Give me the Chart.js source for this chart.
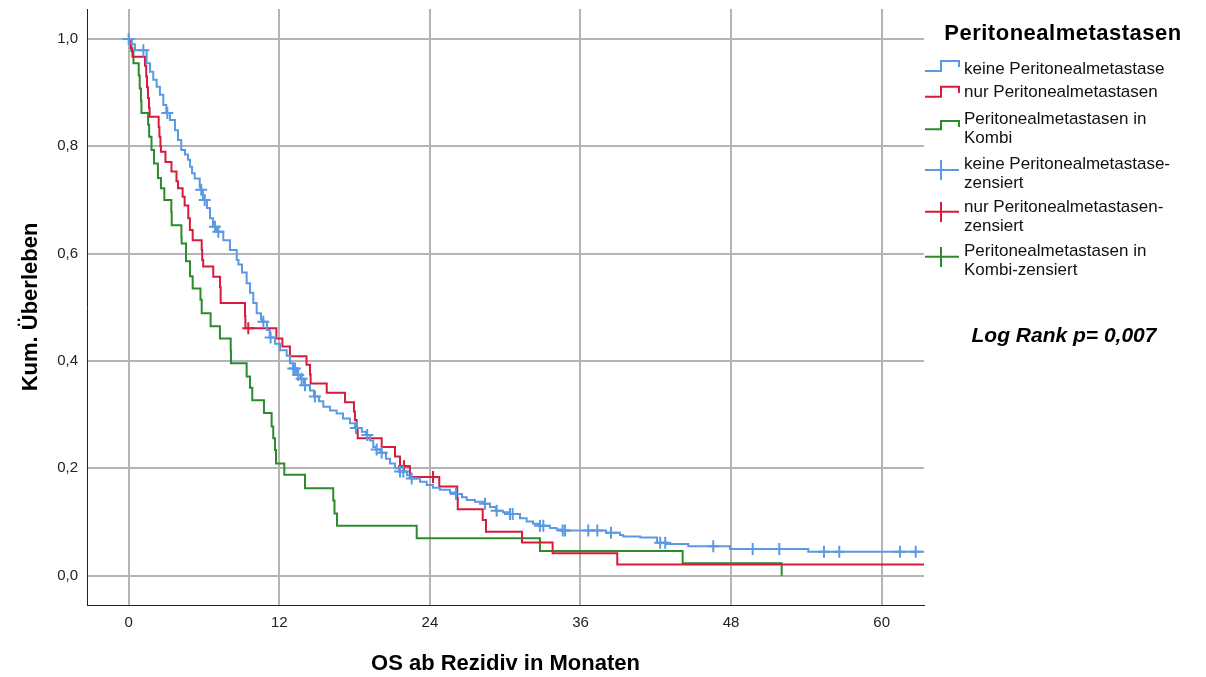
<!DOCTYPE html>
<html>
<head>
<meta charset="utf-8">
<script src="https://cdn.jsdelivr.net/npm/chart.js@4.4.1/dist/chart.umd.min.js"></script>
<style>
  body { margin: 0; background: #fff; }
  #wrap { position: relative; width: 1206px; height: 677px; font-family: 'Liberation Sans', Arial, sans-serif; color: #000; }
  #wrap canvas, #wrap svg { position: absolute; left: 0; top: 0; }
  .lg { position: absolute; left: 964px; font-size: 17px; line-height: 19px; white-space: nowrap; color: #111; }
  #lgTitle { position: absolute; left: 903px; width: 320px; top: 20px; text-align: center; font-size: 22px; line-height: 26px; font-weight: bold; letter-spacing: 0.5px; }
  #logrank { position: absolute; left: 944px; width: 240px; top: 322px; text-align: center; font-size: 21px; line-height: 26px; font-weight: bold; font-style: italic; }
</style>
</head>
<body>
<div id="wrap">
  <canvas id="km" width="1206" height="677"></canvas>
  <svg width="1206" height="677" fill="none" stroke-width="2">
    <path d="M925 71H941V61H959V67" stroke="#5b9ae3"/>
    <path d="M925 96.7H941V86.7H959V93" stroke="#d81b3c"/>
    <path d="M925 129.3H941V121H959V127" stroke="#2d8a2d"/>
    <path d="M925 170H959M941 160V180" stroke="#5b9ae3"/>
    <path d="M925 211.7H959M941 202V222" stroke="#d81b3c"/>
    <path d="M925 256.7H959M941 247V267" stroke="#2d8a2d"/>
  </svg>
  <div id="lgTitle">Peritonealmetastasen</div>
  <div class="lg" style="top:58.8px">keine Peritonealmetastase</div>
  <div class="lg" style="top:82.2px">nur Peritonealmetastasen</div>
  <div class="lg" style="top:108.8px">Peritonealmetastasen in<br>Kombi</div>
  <div class="lg" style="top:153.8px">keine Peritonealmetastase-<br>zensiert</div>
  <div class="lg" style="top:197.2px">nur Peritonealmetastasen-<br>zensiert</div>
  <div class="lg" style="top:240.5px">Peritonealmetastasen in<br>Kombi-zensiert</div>
  <div id="logrank">Log Rank p= 0,007</div>
</div>
<script>
// axis ticks
const xTicks = [0, 12, 24, 36, 48, 60];
const yTicks = [0, 0.2, 0.4, 0.6, 0.8, 1.0];

// Kaplan-Meier steps: [month, survival after the drop]
const keineSteps = [
  [0.24, 0.99], [0.50, 0.979], [1.43, 0.955], [1.70, 0.939], [1.96, 0.924], [2.23, 0.911],
  [2.49, 0.896], [2.76, 0.877], [3.00, 0.862], [3.29, 0.849], [3.69, 0.830], [3.93, 0.812],
  [4.19, 0.793], [4.49, 0.785], [4.73, 0.775], [4.89, 0.762], [5.05, 0.750], [5.26, 0.740],
  [5.66, 0.725], [5.72, 0.719], [5.92, 0.700], [6.24, 0.685], [6.48, 0.666], [6.72, 0.650],
  [7.04, 0.641], [7.54, 0.625], [8.07, 0.607], [8.61, 0.588], [8.75, 0.580], [9.03, 0.565],
  [9.40, 0.545], [9.67, 0.527], [9.93, 0.508], [10.20, 0.489], [10.54, 0.478], [10.62, 0.473],
  [11.02, 0.458], [11.24, 0.444], [11.66, 0.432], [12.06, 0.420], [12.59, 0.410], [12.85, 0.396],
  [13.09, 0.386], [13.41, 0.374], [13.69, 0.367], [13.97, 0.355], [14.45, 0.345], [14.76, 0.334],
  [15.16, 0.325], [15.51, 0.315], [16.04, 0.308], [16.57, 0.302], [17.08, 0.293], [17.63, 0.284],
  [18.03, 0.275], [18.58, 0.268], [18.91, 0.262], [19.23, 0.252], [19.49, 0.240], [19.71, 0.235],
  [20.06, 0.229], [20.50, 0.218], [20.82, 0.209], [21.22, 0.200], [21.54, 0.194], [22.18, 0.187],
  [22.49, 0.181], [23.21, 0.175], [23.75, 0.169], [24.25, 0.164], [24.80, 0.160], [25.60, 0.155],
  [26.00, 0.152], [26.56, 0.146], [26.93, 0.141], [27.59, 0.138], [28.31, 0.134], [28.79, 0.128],
  [29.27, 0.121], [29.82, 0.118], [30.30, 0.115], [31.18, 0.107], [31.71, 0.101], [32.22, 0.097],
  [32.69, 0.093], [33.57, 0.089], [34.10, 0.086], [34.45, 0.084], [38.03, 0.080], [39.15, 0.076],
  [39.41, 0.073], [40.76, 0.071], [42.10, 0.0615], [42.87, 0.059], [44.59, 0.055], [47.91, 0.0497],
  [54.15, 0.0447], [64, 0.0447]
];
const nurSteps = [
  [0.16, 0.983], [0.30, 0.967], [1.30, 0.95], [1.40, 0.93], [1.46, 0.91], [1.54, 0.89],
  [1.62, 0.872], [1.67, 0.855], [2.39, 0.836], [2.45, 0.818], [2.53, 0.80], [2.57, 0.79],
  [2.93, 0.771], [3.41, 0.753], [3.81, 0.735], [3.93, 0.722], [4.30, 0.706], [4.46, 0.69],
  [4.75, 0.666], [4.88, 0.644], [5.10, 0.625], [5.82, 0.607], [5.86, 0.588], [5.94, 0.576],
  [6.74, 0.557], [7.28, 0.538], [7.33, 0.508], [9.27, 0.484], [9.30, 0.461], [11.77, 0.442],
  [12.25, 0.427], [12.85, 0.409], [14.17, 0.393], [14.45, 0.375], [14.50, 0.358], [15.78, 0.341],
  [17.24, 0.323], [17.95, 0.306], [18.03, 0.29], [18.17, 0.271], [18.25, 0.256], [20.16, 0.240],
  [21.22, 0.222], [21.62, 0.204], [22.41, 0.184], [24.75, 0.166], [26.18, 0.145], [26.22, 0.124],
  [28.21, 0.104], [28.47, 0.082], [31.34, 0.062], [33.78, 0.042], [38.93, 0.021], [64, 0.021]
];
const kombiSteps = [
  [0.22, 0.977], [0.38, 0.955], [0.80, 0.932], [0.88, 0.908], [0.98, 0.885], [1.02, 0.862],
  [1.55, 0.840], [1.63, 0.818], [1.82, 0.793], [2.02, 0.768], [2.33, 0.741], [2.57, 0.722],
  [2.84, 0.700], [3.40, 0.677], [3.43, 0.653], [4.20, 0.630], [4.22, 0.619], [4.57, 0.586],
  [4.89, 0.558], [5.10, 0.535], [5.72, 0.514], [5.82, 0.489], [6.53, 0.465], [7.27, 0.442],
  [8.13, 0.419], [8.15, 0.396], [9.40, 0.371], [9.67, 0.350], [9.85, 0.327], [10.78, 0.303],
  [11.39, 0.278], [11.52, 0.256], [11.66, 0.234], [11.74, 0.209], [12.40, 0.188], [14.05, 0.163],
  [16.30, 0.140], [16.40, 0.116], [16.60, 0.093], [22.95, 0.070], [32.77, 0.046], [44.14, 0.023],
  [52.03, 0.0]
];

// censored times (months)
const keineCensored = [0, 1.17, 3.08, 5.78, 6.06, 6.88, 7.14, 10.73, 11.31, 13.12, 13.25, 13.51,
  13.78, 14.05, 14.84, 18.11, 19.01, 19.76, 20.16, 21.62, 21.88, 22.55, 26.08, 28.39, 29.32,
  30.38, 30.60, 32.77, 33.04, 34.58, 34.77, 36.62, 37.34, 38.43, 42.35, 42.75, 46.58, 49.72,
  51.84, 55.40, 56.62, 61.46, 62.71];
const nurCensored = [9.53, 21.94, 24.25];
const kombiCensored = [];

const blue = '#5b9ae3';
const red = '#d81b3c';
const green = '#2d8a2d';

function kmLine(steps) {
  return [{ x: 0, y: 1 }].concat(steps.map(([t, s]) => ({ x: t, y: s })));
}
function survAt(steps, t) {
  let s = 1;
  for (const [ti, si] of steps) if (ti <= t) s = si;
  return s;
}
function marks(steps, times) {
  return times.map(t => ({ x: t, y: survAt(steps, t) }));
}

function stepSet(label, steps, color) {
  return { label, data: kmLine(steps), borderColor: color, borderWidth: 2, stepped: 'before', pointRadius: 0, fill: false };
}
function censorSet(label, steps, times, color) {
  return { label, data: marks(steps, times), showLine: false, pointStyle: 'cross', pointRadius: 6,
    pointBorderWidth: 2, pointBorderColor: color, borderColor: color, backgroundColor: color };
}

Chart.defaults.font.family = "'Liberation Sans', Arial, sans-serif";

new Chart(document.getElementById('km'), {
  type: 'line',
  data: {
    datasets: [
      censorSet('keine Peritonealmetastase-zensiert', keineSteps, keineCensored, blue),
      censorSet('nur Peritonealmetastasen-zensiert', nurSteps, nurCensored, red),
      censorSet('Peritonealmetastasen in Kombi-zensiert', kombiSteps, kombiCensored, green),
      stepSet('keine Peritonealmetastase', keineSteps, blue),
      stepSet('nur Peritonealmetastasen', nurSteps, red),
      stepSet('Peritonealmetastasen in Kombi', kombiSteps, green),
    ],
  },
  options: {
    responsive: false,
    animation: false,
    devicePixelRatio: 1,
    layout: {
      padding: { top: 9, right: 282, bottom: 0, left: 0 },
    },
    plugins: {
      legend: { display: false },
      tooltip: { enabled: false },
    },
    scales: {
      x: {
        type: 'linear',
        min: -3.32,
        max: 63.37,
        afterBuildTicks: s => { s.ticks = xTicks.map(v => ({ value: v })); },
        afterFit: s => { s.height = 72; s.paddingLeft = 0; s.paddingRight = 0; },
        grid: { color: '#b4b4b4', lineWidth: 2, drawTicks: false },
        border: { color: '#222', width: 1 },
        ticks: { padding: 9, color: '#222', font: { size: 15 } },
        title: {
          display: true,
          text: 'OS ab Rezidiv in Monaten',
          color: '#000',
          font: { size: 22, weight: 'bold' },
          padding: { top: 0, bottom: 0 },
        },
      },
      y: {
        type: 'linear',
        min: -0.0546,
        max: 1.0559,
        afterBuildTicks: s => { s.ticks = yTicks.map(v => ({ value: v })); },
        afterFit: s => { s.width = 87; s.paddingTop = 0; s.paddingBottom = 0; },
        grid: { color: '#b4b4b4', lineWidth: 2, drawTicks: false },
        border: { color: '#222', width: 1 },
        ticks: {
          padding: 9,
          color: '#222',
          font: { size: 15 },
          callback: v => v.toFixed(1).replace('.', ','),
        },
        title: {
          display: true,
          text: 'Kum. Überleben',
          color: '#000',
          font: { size: 22, weight: 'bold' },
          padding: { top: 18, bottom: 0 },
        },
      },
    },
  },
});
</script>
</body>
</html>
